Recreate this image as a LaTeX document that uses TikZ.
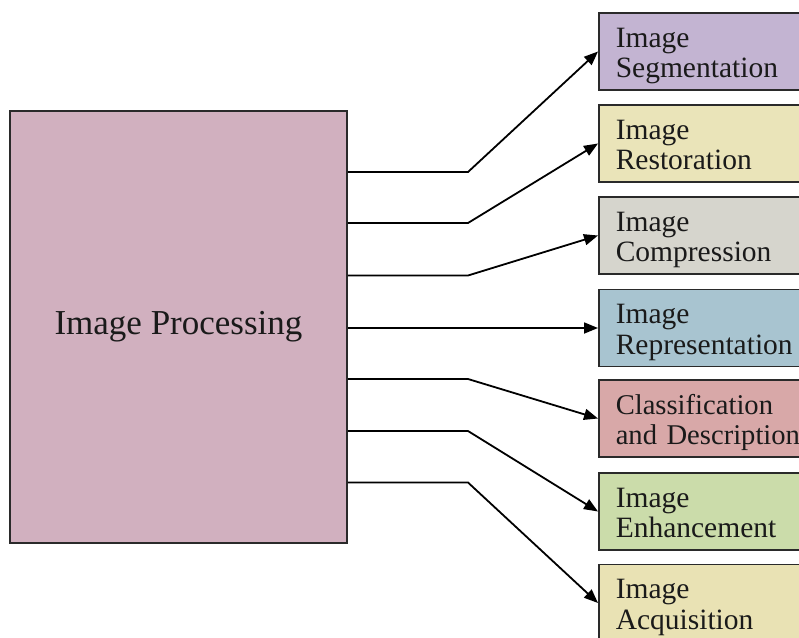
\documentclass[tikz,border=0pt]{standalone}
\usepackage{fontspec}
\setmainfont{Liberation Serif}
\usetikzlibrary{arrows.meta}
\definecolor{inkline}{HTML}{2A2A2A}
\definecolor{inktext}{HTML}{1A1A1A}
\definecolor{fmain}{HTML}{D1B0BF}
\definecolor{fseg}{HTML}{C3B4D2}
\definecolor{frest}{HTML}{EAE4B9}
\definecolor{fcomp}{HTML}{D6D5CD}
\definecolor{frep}{HTML}{A8C4D0}
\definecolor{fclass}{HTML}{D8A8A8}
\definecolor{fenh}{HTML}{CBDCAA}
\definecolor{facq}{HTML}{E9E2B4}
\tikzset{
  mainbox/.style={draw=inkline, line width=1.5pt, text=inktext,
    minimum width=337pt, minimum height=432pt, inner sep=0pt,
    text height=24pt, text depth=10pt,
    font=\fontsize{35}{40}\selectfont},
  taskbox/.style={draw=inkline, line width=1.5pt, text=inktext, anchor=west,
    minimum width=232pt, minimum height=77pt, inner xsep=17pt, inner ysep=0pt,
    text width=198pt, align=left, text height=20pt, text depth=29pt,
    font=\fontsize{29.5}{30.5}\selectfont},
  link/.style={draw=black, line width=1.8pt, line join=miter,
    -{Triangle[length=14pt,width=11pt]}}
}
\begin{document}
\begin{tikzpicture}[x=1pt, y=-1pt]
  \clip (0,0) rectangle (799,637);
  \fill[white] (0,0) rectangle (799,637);

  % central block
  \node[mainbox, fill=fmain] (main) at (178.5,327) {Image Processing};

  % task blocks, left edges aligned
  \node[taskbox, fill=fseg]   (r1) at (598,51.5)  {Image\\Segmentation};
  \node[taskbox, fill=frest]  (r2) at (598,143.5) {Image\\Restoration};
  \node[taskbox, fill=fcomp]  (r3) at (598,235.5) {Image\\Compression};
  \node[taskbox, fill=frep]   (r4) at (598,328)   {Image\\Representation};
  \node[taskbox, fill=fclass, font=\fontsize{28.6}{30.5}\selectfont]
                              (r5) at (598,418.5) {Classification\\and Description};
  \node[taskbox, fill=fenh]   (r6) at (598,511.5) {Image\\Enhancement};
  \node[taskbox, fill=facq]   (r7) at (598,603)   {Image\\Acquisition};

  % bends of the connectors
  \coordinate (k1) at (468,172);
  \coordinate (k2) at (468,223);
  \coordinate (k3) at (468,275.5);
  \coordinate (k5) at (468,379);
  \coordinate (k6) at (468,431);
  \coordinate (k7) at (468,482.5);

  \draw[link] (main.east |- k1) -- (k1) -- (r1.west);
  \draw[link] (main.east |- k2) -- (k2) -- (r2.west);
  \draw[link] (main.east |- k3) -- (k3) -- (r3.west);
  \draw[link] (main.east |- r4.west) -- (r4.west);
  \draw[link] (main.east |- k5) -- (k5) -- (r5.west);
  \draw[link] (main.east |- k6) -- (k6) -- (r6.west);
  \draw[link] (main.east |- k7) -- (k7) -- (r7.west);
\end{tikzpicture}
\end{document}
